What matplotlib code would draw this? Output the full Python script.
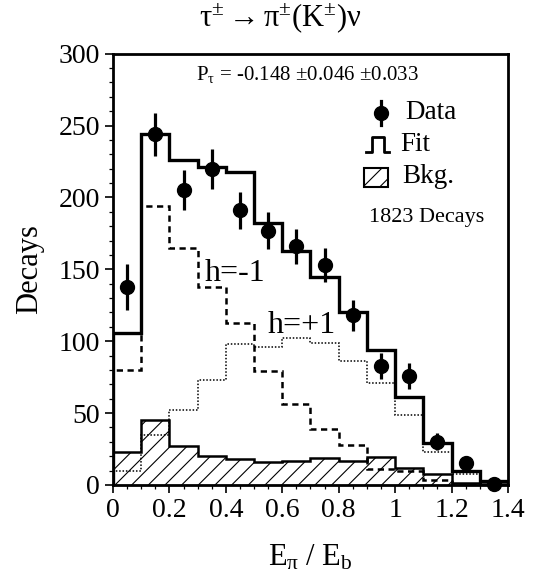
import numpy as np
import matplotlib
matplotlib.use("Agg")
import matplotlib.pyplot as plt
from matplotlib.lines import Line2D
from matplotlib.patches import Rectangle

plt.rcParams['font.family'] = ['Liberation Serif', 'DejaVu Serif']
plt.rcParams['mathtext.fontset'] = 'custom'
plt.rcParams['mathtext.rm'] = 'Liberation Serif'
plt.rcParams['mathtext.it'] = 'Liberation Serif:italic'
plt.rcParams['mathtext.bf'] = 'Liberation Serif:bold'
plt.rcParams['hatch.linewidth'] = 0.8

# bin edges in E_pi / E_b
edges = [0.0, 0.1, 0.2, 0.3, 0.4, 0.5, 0.6, 0.7, 0.8, 0.9, 1.0, 1.1, 1.2, 1.3, 1.4]
centers = [0.05, 0.15, 0.25, 0.35, 0.45, 0.55, 0.65, 0.75, 0.85, 0.95, 1.05, 1.15, 1.25, 1.35]

# data points with errors
data = [138, 244, 205, 220, 191, 177, 166, 153, 118, 83, 76, 30, 15, 0.5]
data_err = [16, 15, 14, 14, 13, 13, 12, 12, 11, 9, 9, 6, 4, 1]

# fit and its components
fit = [106, 244, 226, 221, 218, 182, 163, 145, 120, 94, 61, 29, 10, 3]
h_minus = [80, 194, 165, 138, 113, 79, 56, 39, 28, 11, 10, 3.5, 1, 0]
h_plus = [10, 35, 52, 73, 98, 96, 102, 99, 86, 71, 49, 23, 7.5, 0]
bkg = [23, 45, 27, 20, 18, 16, 17, 19, 17, 19.5, 12, 7.5, 1.5, 1]

fig, ax = plt.subplots(figsize=(5.33, 5.78), dpi=100)
fig.subplots_adjust(left=0.212, right=0.953, bottom=0.161, top=0.907)

ax.stairs(bkg, edges, fill=True, facecolor='none', edgecolor='black',
          hatch='//', linewidth=1.8)
ax.stairs(h_plus, edges, color='black', linestyle=(0, (1, 1.2)), linewidth=1.1)
ax.stairs(h_minus, edges, color='black', linestyle=(0, (2.5, 1.8)), linewidth=1.8)
ax.stairs(fit, edges, color='black', linewidth=2.4)
ax.errorbar(centers, data, yerr=data_err, fmt='o', color='black', ms=10,
            elinewidth=2.3, capsize=0, clip_on=False, zorder=5)

ax.set_xlim(0, 1.4)
ax.set_ylim(0, 300)
ax.set_xticks([0, 0.2, 0.4, 0.6, 0.8, 1.0, 1.2, 1.4])
ax.set_xticklabels(['0', '0.2', '0.4', '0.6', '0.8', '1', '1.2', '1.4'])
ax.set_xticks(np.arange(0, 1.41, 0.05), minor=True)
ax.set_yticks([0, 50, 100, 150, 200, 250, 300])
ax.set_yticks(np.arange(0, 301, 10), minor=True)
ax.tick_params(which='major', direction='out', length=6, width=1.2, labelsize=20)
ax.tick_params(which='minor', direction='out', length=3, width=0.9)
for s in ax.spines.values():
    s.set_linewidth(2)

ax.set_xlabel(r'$\mathrm{E_{\pi}\ /\ E_{b}}$', fontsize=22, labelpad=14)
ax.set_ylabel('Decays', fontsize=22, labelpad=10)
fig.text(0.525, 0.968, r'$\mathrm{\tau^{\pm} \rightarrow \pi^{\pm}(K^{\pm})\nu}$',
         fontsize=22, ha='center', va='center')

ax.text(0.21, 0.951, r'$\mathrm{P_{\tau}}$ = -0.148 $\pm$0.046 $\pm$0.033',
        transform=ax.transAxes, fontsize=15, va='center', ha='left')

ax.text(0.326, 147, 'h=-1', fontsize=23, va='center', ha='left')
ax.text(0.55, 111, 'h=+1', fontsize=23, va='center', ha='left')

# legend drawn by hand
ax.plot([0.678], [0.863], 'o', color='black', ms=10, transform=ax.transAxes)
ax.plot([0.678, 0.678], [0.835, 0.891], color='black', lw=2.3, transform=ax.transAxes)
ax.text(0.739, 0.863, 'Data', transform=ax.transAxes, fontsize=19.5, va='center')
ax.add_line(Line2D([0.641, 0.655, 0.655, 0.686, 0.686, 0.699],
                   [0.771, 0.771, 0.808, 0.808, 0.771, 0.771],
                   color='black', lw=2, transform=ax.transAxes))
ax.text(0.727, 0.789, 'Fit', transform=ax.transAxes, fontsize=19.5, va='center')
ax.add_patch(Rectangle((0.635, 0.692), 0.061, 0.044, transform=ax.transAxes,
                       facecolor='none', edgecolor='black', hatch='//', lw=1.5))
ax.text(0.732, 0.715, 'Bkg.', transform=ax.transAxes, fontsize=19.5, va='center')
ax.text(0.648, 0.62, '1823 Decays', transform=ax.transAxes, fontsize=16, va='center')

fig.savefig('out.png', dpi=100)
